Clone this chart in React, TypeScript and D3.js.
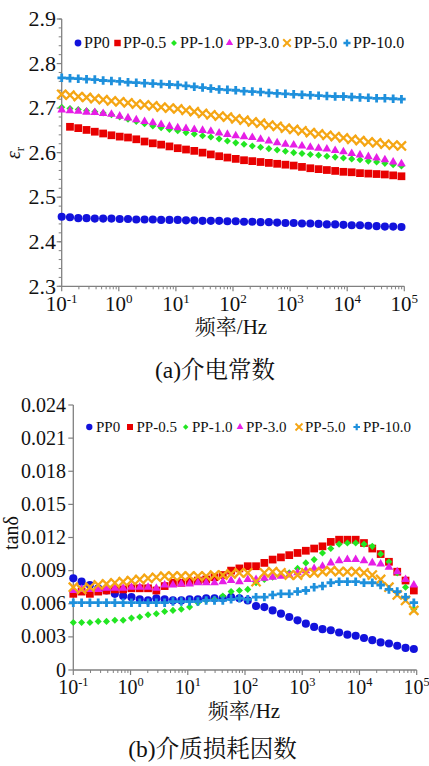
import React from 'react';
import * as d3 from 'd3';

// ---------- data ----------
// measurement frequencies as log10(f / Hz)
const freqExp = [
  -1.0, -0.855, -0.71, -0.565, -0.42, -0.274, -0.129, 0.016, 0.161, 0.306,
  0.451, 0.596, 0.741, 0.887, 1.032, 1.177, 1.322, 1.467, 1.612, 1.757,
  1.902, 2.048, 2.193, 2.338, 2.483, 2.628, 2.773, 2.918, 3.063, 3.208,
  3.354, 3.499, 3.644, 3.789, 3.934, 4.079, 4.224, 4.37, 4.515, 4.66,
  4.805, 4.95,
];

const seriesNames = ['PP0', 'PP-0.5', 'PP-1.0', 'PP-3.0', 'PP-5.0', 'PP-10.0'];
const seriesColors = ['#1212dc', '#e80000', '#22e622', '#e61ee6', '#f5a614', '#1e90dc'];

// (a) relative permittivity
const epsPP0 = [2.456, 2.455, 2.453, 2.453, 2.452, 2.452, 2.452, 2.451, 2.451, 2.45, 2.45, 2.45, 2.449, 2.449, 2.449, 2.448, 2.448, 2.447, 2.447, 2.447, 2.446, 2.446, 2.445, 2.445, 2.444, 2.444, 2.443, 2.442, 2.442, 2.441, 2.441, 2.44, 2.439, 2.439, 2.438, 2.437, 2.437, 2.436, 2.435, 2.434, 2.434, 2.433];
const epsPP05 = [null, 2.658, 2.655, 2.651, 2.647, 2.643, 2.639, 2.636, 2.634, 2.63, 2.625, 2.621, 2.618, 2.614, 2.61, 2.607, 2.604, 2.6, 2.596, 2.592, 2.589, 2.586, 2.583, 2.581, 2.579, 2.577, 2.575, 2.573, 2.571, 2.568, 2.565, 2.563, 2.561, 2.559, 2.557, 2.556, 2.554, 2.553, 2.552, 2.551, 2.549, 2.547];
const epsPP10 = [2.702, 2.699, 2.697, 2.694, 2.692, 2.689, 2.685, 2.68, 2.675, 2.67, 2.665, 2.66, 2.656, 2.652, 2.649, 2.645, 2.642, 2.638, 2.635, 2.631, 2.626, 2.622, 2.619, 2.615, 2.612, 2.609, 2.606, 2.603, 2.6, 2.598, 2.596, 2.594, 2.592, 2.59, 2.588, 2.586, 2.584, 2.581, 2.579, 2.576, 2.573, 2.57];
const epsPP30 = [2.696, 2.694, 2.693, 2.691, 2.69, 2.688, 2.686, 2.682, 2.678, 2.674, 2.67, 2.667, 2.663, 2.659, 2.656, 2.654, 2.652, 2.65, 2.648, 2.644, 2.641, 2.638, 2.636, 2.634, 2.63, 2.626, 2.622, 2.619, 2.617, 2.615, 2.612, 2.61, 2.608, 2.605, 2.602, 2.598, 2.595, 2.591, 2.588, 2.584, 2.579, 2.575];
const epsPP50 = [2.731, 2.729, 2.726, 2.724, 2.721, 2.719, 2.716, 2.714, 2.712, 2.709, 2.707, 2.705, 2.702, 2.7, 2.698, 2.695, 2.692, 2.688, 2.685, 2.682, 2.68, 2.676, 2.673, 2.669, 2.666, 2.662, 2.659, 2.655, 2.652, 2.649, 2.645, 2.642, 2.639, 2.636, 2.633, 2.63, 2.627, 2.624, 2.622, 2.619, 2.617, 2.615];
const epsPP100 = [2.768, 2.767, 2.766, 2.765, 2.764, 2.762, 2.761, 2.76, 2.758, 2.757, 2.756, 2.755, 2.754, 2.753, 2.752, 2.75, 2.748, 2.746, 2.744, 2.742, 2.741, 2.74, 2.738, 2.737, 2.736, 2.734, 2.733, 2.732, 2.731, 2.73, 2.729, 2.728, 2.727, 2.726, 2.726, 2.725, 2.724, 2.723, 2.722, 2.722, 2.721, 2.72];

// (b) loss tangent
const tanPP0 = [0.0083, 0.008, 0.0077, 0.0074, 0.0072, 0.0069, 0.0067, 0.0066, 0.0064, 0.0063, 0.0065, 0.0064, 0.0063, 0.0063, 0.0064, 0.0064, 0.0065, 0.0065, 0.0065, 0.0066, 0.0065, 0.0063, 0.0058, 0.0057, 0.0054, 0.0051, 0.0048, 0.0045, 0.0042, 0.0039, 0.0037, 0.0036, 0.0034, 0.0032, 0.0031, 0.0029, 0.0027, 0.0025, 0.0024, 0.0022, 0.002, 0.0019];
const tanPP05 = [0.0069, 0.0071, 0.0069, 0.0071, 0.0072, 0.0073, 0.0073, 0.0074, 0.0074, 0.0074, 0.0072, 0.0076, 0.0079, 0.0079, 0.008, 0.0081, 0.0082, 0.0084, 0.0086, 0.009, 0.0092, 0.0094, 0.0094, 0.0097, 0.01, 0.0102, 0.0104, 0.0106, 0.0108, 0.011, 0.0112, 0.0116, 0.0118, 0.0118, 0.0118, 0.0115, 0.011, 0.0105, 0.0098, 0.0089, 0.0081, 0.0072];
const tanPP10 = [0.0043, 0.0043, 0.0043, 0.0044, 0.0044, 0.0045, 0.0045, 0.0047, 0.0048, 0.005, 0.0051, 0.0053, 0.0054, 0.0055, 0.0057, 0.0061, 0.0063, 0.0064, 0.0067, 0.0071, 0.0072, 0.0073, 0.0079, 0.0082, 0.0084, 0.0086, 0.0088, 0.0092, 0.0097, 0.01, 0.0106, 0.011, 0.0114, 0.0115, 0.0115, 0.0114, 0.0112, 0.0105, 0.0098, 0.0088, 0.0075, 0.0055];
const tanPP30 = [0.0072, 0.0073, 0.0073, 0.0073, 0.0074, 0.0074, 0.0074, 0.0075, 0.0075, 0.0075, 0.0074, 0.0077, 0.0077, 0.0078, 0.0078, 0.0079, 0.0079, 0.0079, 0.008, 0.0081, 0.008, 0.0082, 0.0082, 0.0083, 0.0084, 0.0085, 0.0086, 0.0088, 0.009, 0.0092, 0.0094, 0.0097, 0.0099, 0.01, 0.01, 0.0099, 0.0097, 0.0096, 0.0093, 0.0089, 0.0082, 0.0077];
const tanPP50 = [0.0075, 0.0073, 0.0075, 0.0077, 0.0078, 0.0079, 0.008, 0.0081, 0.0082, 0.0083, 0.0084, 0.0085, 0.0085, 0.0085, 0.0085, 0.0085, 0.0085, 0.0086, 0.0086, 0.0087, 0.0088, 0.0088, 0.008, 0.0088, 0.0089, 0.0088, 0.0086, 0.0086, 0.0088, 0.0088, 0.0089, 0.009, 0.0089, 0.0089, 0.0089, 0.0088, 0.0086, 0.0082, 0.0075, 0.0068, 0.0063, 0.0054];
const tanPP100 = [0.0061, 0.0061, 0.0061, 0.0061, 0.0061, 0.0061, 0.0061, 0.0061, 0.0061, 0.0061, 0.0061, 0.0061, 0.0062, 0.0062, 0.0062, 0.0062, 0.0063, 0.0063, 0.0063, 0.0064, 0.0065, 0.0064, 0.0066, 0.0066, 0.0068, 0.0069, 0.0069, 0.0071, 0.0072, 0.0075, 0.0076, 0.0079, 0.008, 0.008, 0.008, 0.0079, 0.0079, 0.0077, 0.0073, 0.0071, 0.0066, 0.0061];

const epsTicks = [2.3, 2.4, 2.5, 2.6, 2.7, 2.8, 2.9];
const tanTicks = [0, 0.003, 0.006, 0.009, 0.012, 0.015, 0.018, 0.021, 0.024];
const tanTickLabels = ['0', '0.003', '0.006', '0.009', '0.012', '0.015', '0.018', '0.021', '0.024'];
const decadeExps = [-1, 0, 1, 2, 3, 4, 5];

const epsSeries = [epsPP0, epsPP05, epsPP10, epsPP30, epsPP50, epsPP100];
const tanSeries = [tanPP0, tanPP05, tanPP10, tanPP30, tanPP50, tanPP100];

// ---------- drawing helpers ----------
const SERIF = "'Liberation Serif', 'Times New Roman', serif";
const CJK = "'Liberation Serif', 'Noto Serif CJK SC', 'Noto Sans CJK SC', serif";
const AXIS = '#808080';

type Kind = 'circle' | 'square' | 'diamond' | 'triangle' | 'times' | 'plus';
const kinds: Kind[] = ['circle', 'square', 'diamond', 'triangle', 'times', 'plus'];

function markerPath(kind: Kind, scale: number): string {
  const s = scale;
  switch (kind) {
    case 'circle': return d3.symbol().type(d3.symbolCircle).size(52 * s)() as string;
    case 'square': return d3.symbol().type(d3.symbolSquare).size(60 * s)() as string;
    case 'diamond': return d3.symbol().type(d3.symbolDiamond2).size(32 * s)() as string;
    case 'triangle': return d3.symbol().type(d3.symbolTriangle).size(33 * s)() as string;
    case 'times': return d3.symbol().type(d3.symbolTimes).size(56 * s)() as string;
    case 'plus': return d3.symbol().type(d3.symbolCross).size(40 * s)() as string;
  }
}

function Marker({ kind, color, x, y, scale = 1 }: { kind: Kind; color: string; x: number; y: number; scale?: number }) {
  const d = markerPath(kind, scale);
  if (kind === 'times') {
    return <path d={d} transform={`translate(${x},${y})`} fill="none" stroke={color} strokeWidth={2.3 * Math.sqrt(scale)} />;
  }
  return <path d={d} transform={`translate(${x},${y})`} fill={color} />;
}

function minorLogTicks(): number[] {
  const out: number[] = [];
  for (let e = -1; e < 5; e++) for (let m = 2; m <= 9; m++) out.push(m * Math.pow(10, e));
  return out;
}

function XAxisLog({ x, y0, labelY, fontSize }: { x: d3.ScaleLogarithmic<number, number>; y0: number; labelY: number; fontSize: number }) {
  const [r0, r1] = x.range();
  return (
    <g>
      <line x1={r0} x2={r1} y1={y0} y2={y0} stroke={AXIS} strokeWidth={1.3} />
      {minorLogTicks().map((v, i) => (
        <line key={'m' + i} x1={x(v)} x2={x(v)} y1={y0} y2={y0 + 3} stroke={AXIS} strokeWidth={1} />
      ))}
      {decadeExps.map((e) => {
        const px = x(Math.pow(10, e));
        return (
          <g key={e}>
            <line x1={px} x2={px} y1={y0} y2={y0 + 5} stroke={AXIS} strokeWidth={1.2} />
            <text x={px} y={labelY} textAnchor="middle" fontFamily={SERIF} fontSize={fontSize} fill="#111">
              <tspan>10</tspan>
              <tspan fontSize={fontSize * 0.62} dy={-fontSize * 0.38}>{String(e)}</tspan>
            </text>
          </g>
        );
      })}
    </g>
  );
}

function Legend({ y, markerX, textX, fontSize, mscale }: { y: number; markerX: number[]; textX: number[]; fontSize: number; mscale: number }) {
  return (
    <g>
      {seriesNames.map((n, i) => (
        <g key={n}>
          <Marker kind={kinds[i]} color={seriesColors[i]} x={markerX[i]} y={y} scale={mscale} />
          <text x={textX[i]} y={y} dy="0.34em" fontFamily={SERIF} fontSize={fontSize} fill="#111">{n}</text>
        </g>
      ))}
    </g>
  );
}

export default function App() {
  // ----- chart (a) -----
  const xA = d3.scaleLog().domain([0.1, 1e5]).range([61.7, 404.3]);
  const yA = d3.scaleLinear().domain([2.3, 2.9]).range([286.3, 19]);
  const minorA = d3.range(2.3, 2.9001, 0.02);

  // ----- chart (b) -----
  const xB = d3.scaleLog().domain([0.1, 1e5]).range([73.3, 416.7]);
  const yB = d3.scaleLinear().domain([0, 0.024]).range([670, 405]);

  const freqs = freqExp.map((e) => Math.pow(10, e));

  return (
    <svg width={429} height={766} style={{ position: 'absolute', left: 0, top: 0, background: '#fff' }}>
      <rect x={0} y={0} width={429} height={766} fill="#fff" />

      {/* ===== (a) ===== */}
      <g>
        <line x1={xA.range()[0]} x2={xA.range()[0]} y1={yA(2.9)} y2={yA(2.3)} stroke={AXIS} strokeWidth={1.3} />
        {minorA.map((v, i) => (
          <line key={i} x1={xA.range()[0] - 3} x2={xA.range()[0]} y1={yA(v)} y2={yA(v)} stroke={AXIS} strokeWidth={1} />
        ))}
        {epsTicks.map((t) => (
          <g key={t}>
            <line x1={xA.range()[0] - 5} x2={xA.range()[0]} y1={yA(t)} y2={yA(t)} stroke={AXIS} strokeWidth={1.2} />
            <text x={56} y={yA(t)} dy="0.33em" textAnchor="end" fontFamily={SERIF} fontSize={22} fill="#111">{t.toFixed(1)}</text>
          </g>
        ))}
        <XAxisLog x={xA} y0={yA(2.3)} labelY={311} fontSize={21} />
        <text transform="translate(20,153) rotate(-90)" textAnchor="middle" fontFamily={SERIF} fontSize={20} fill="#111">
          <tspan fontStyle="italic">ε</tspan>
          <tspan fontSize={13} dy={4}>r</tspan>
        </text>
        <text x={231} y={334} textAnchor="middle" fontFamily={CJK} fontSize={21} fill="#111">频率/Hz</text>
        <text x={215} y={378} textAnchor="middle" fontFamily={CJK} fontSize={23.5} fill="#111">(a)介电常数</text>

        {epsSeries.map((vals, si) => (
          <g key={si}>
            {vals.map((v, i) =>
              v == null ? null : (
                <Marker key={i} kind={kinds[si]} color={seriesColors[si]} x={xA(freqs[i])} y={yA(v)} />
              )
            )}
          </g>
        ))}
        <Legend y={43} markerX={[78, 117.5, 174, 229.5, 287, 347]} textX={[84, 123, 180, 236, 294, 353]} fontSize={16} mscale={0.7} />
      </g>

      {/* ===== (b) ===== */}
      <g>
        <line x1={xB.range()[0]} x2={xB.range()[0]} y1={yB(0.024)} y2={yB(0)} stroke={AXIS} strokeWidth={1.3} />
        {tanTicks.map((t, i) => (
          <g key={t}>
            <line x1={xB.range()[0] - 5} x2={xB.range()[0]} y1={yB(t)} y2={yB(t)} stroke={AXIS} strokeWidth={1.2} />
            <text x={66} y={yB(t)} dy="0.33em" textAnchor="end" fontFamily={SERIF} fontSize={20} fill="#111">{tanTickLabels[i]}</text>
          </g>
        ))}
        <XAxisLog x={xB} y0={yB(0)} labelY={694} fontSize={20} />
        <text transform="translate(18,533) rotate(-90)" textAnchor="middle" fontFamily={SERIF} fontSize={20} fill="#111">tanδ</text>
        <text x={244} y={718} textAnchor="middle" fontFamily={CJK} fontSize={21} fill="#111">频率/Hz</text>
        <text x={212.5} y={757} textAnchor="middle" fontFamily={CJK} fontSize={23.5} fill="#111">(b)介质损耗因数</text>

        {tanSeries.map((vals, si) => (
          <g key={si}>
            {vals.map((v, i) =>
              v == null ? null : (
                <Marker key={i} kind={kinds[si]} color={seriesColors[si]} x={xB(freqs[i])} y={yB(v)} />
              )
            )}
          </g>
        ))}
        <Legend y={427} markerX={[89.3, 130, 185.7, 240, 299, 356.7]} textX={[96, 136.5, 192, 246, 305, 363]} fontSize={15} mscale={0.6} />
      </g>
    </svg>
  );
}
